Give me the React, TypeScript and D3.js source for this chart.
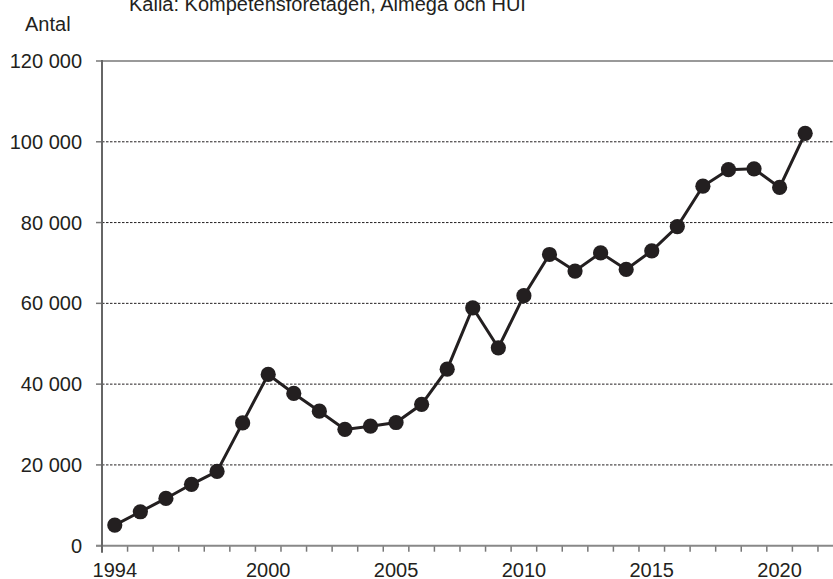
import React from "react";
import * as d3 from "d3";

const years: number[] = [
  1994, 1995, 1996, 1997, 1998, 1999, 2000, 2001, 2002, 2003, 2004, 2005, 2006, 2007,
  2008, 2009, 2010, 2011, 2012, 2013, 2014, 2015, 2016, 2017, 2018, 2019, 2020, 2021,
];
const values: number[] = [
  5100, 8400, 11700, 15200, 18400, 30400, 42400, 37700, 33300, 28800, 29600, 30500, 35000, 43700,
  58900, 49000, 61900, 72100, 68000, 72500, 68400, 73000, 79000, 89000, 93100, 93300, 88700, 102100,
];
const yTicks: number[] = [0, 20000, 40000, 60000, 80000, 100000, 120000];
const xLabelYears: number[] = [1994, 2000, 2005, 2010, 2015, 2020];
const sourceText = "Källa: Kompetensföretagen, Almega och HUI";
const yAxisTitle = "Antal";

const W = 833;
const H = 579;
const left = 102;
const bandW = 25.57;
const extraYears = [2022];
const allYears = [...years, ...extraYears];

const fmt = (v: number) => {
  const s = String(v);
  return s.replace(/\B(?=(\d{3})+(?!\d))/g, " ");
};

export default function App() {
  const x = d3
    .scaleBand<number>()
    .domain(allYears)
    .range([left, left + bandW * allYears.length])
    .paddingInner(0)
    .paddingOuter(0);
  const y = d3.scaleLinear().domain([0, 120000]).range([545.7, 61]);
  const cx = (yr: number) => (x(yr) as number) + x.bandwidth() / 2;
  const line = d3
    .line<number>()
    .x((_, i) => cx(years[i]))
    .y((d) => y(d));
  const font = "'Liberation Sans', Arial, sans-serif";
  const tickYears = allYears.slice(1);
  return (
    <svg
      width={W}
      height={H}
      style={{ position: "absolute", left: 0, top: 0, display: "block", background: "#fff" }}
      fontFamily={font}
    >
      <text x={129} y={11} fontSize={20} fill="#231f20">
        {sourceText}
      </text>
      <text x={25} y={30.5} fontSize={20} fill="#231f20">
        {yAxisTitle}
      </text>
      {yTicks.slice(1, -1).map((t) => (
        <line
          key={"g" + t}
          x1={left}
          x2={W}
          y1={y(t)}
          y2={y(t)}
          stroke="#231f20"
          strokeWidth={1}
          strokeDasharray="2.5,1.5"
        />
      ))}
      <line x1={left} x2={W} y1={y(120000)} y2={y(120000)} stroke="#999" strokeWidth={2} />
      {yTicks.map((t) => (
        <g key={"yt" + t}>
          <line x1={left - 6} x2={left} y1={y(t)} y2={y(t)} stroke="#777" strokeWidth={1.5} />
          <text x={82} y={y(t)} dy="0.35em" textAnchor="end" fontSize={20} fill="#231f20">
            {fmt(t)}
          </text>
        </g>
      ))}
      {tickYears.map((yr) => (
        <line
          key={"xt" + yr}
          x1={x(yr) as number}
          x2={x(yr) as number}
          y1={y(0)}
          y2={y(0) + 6}
          stroke="#777"
          strokeWidth={1.5}
        />
      ))}
      <line x1={left - 6} x2={W} y1={y(0)} y2={y(0)} stroke="#888" strokeWidth={2} />
      <line x1={left} x2={left} y1={y(120000) - 1} y2={y(0) + 7} stroke="#666" strokeWidth={2} />
      {xLabelYears.map((yr) => (
        <text key={"xl" + yr} x={cx(yr)} y={577} textAnchor="middle" fontSize={20} fill="#231f20">
          {yr}
        </text>
      ))}
      <path d={line(values) || ""} fill="none" stroke="#231f20" strokeWidth={3} />
      {values.map((v, i) => (
        <circle key={"p" + i} cx={cx(years[i])} cy={y(v)} r={7.6} fill="#231f20" />
      ))}
    </svg>
  );
}
